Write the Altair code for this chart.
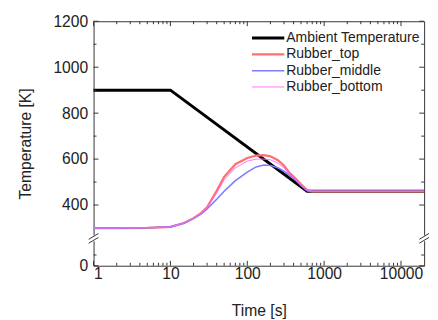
import altair as alt
import pandas as pd

# ---- data ----
series_names = ["Ambient Temperature", "Rubber_top", "Rubber_middle", "Rubber_bottom"]
series_colors = ["#000000", "#ff7070", "#7c7cff", "#ff66ff"]
series_widths = [3, 0.9, 0.9, 0.9]

time_amb = [1, 10, 600, 20000]
temp_amb = [900, 900, 460, 460]

time_rub = [1, 2, 5, 10, 15, 20, 25, 30, 40, 50, 70, 100, 130, 165, 200, 250, 300, 356, 400, 500, 600, 700, 1000, 20000]
temp_top = [300, 300, 301, 305, 322, 343, 365, 390, 462, 522, 578, 605, 615, 617, 612, 595, 572, 539, 524, 490, 465, 460, 460, 460]
temp_mid = [300, 300, 301, 305, 321, 341, 360, 383, 425, 460, 506, 543, 566, 574, 572, 562, 547, 529, 517, 485, 463, 460, 460, 460]
temp_bot = [300, 300, 301, 305, 322, 342, 363, 388, 452, 510, 562, 591, 600, 600, 597, 582, 562, 533, 520, 487, 464, 460, 460, 460]

x_major = [1, 10, 100, 1000, 10000]
x_minor = [m * d for d in [1, 10, 100, 1000] for m in range(2, 10)]
y_labels = [0, 400, 600, 800, 1000, 1200]
y_minor = [100, 500, 700, 900, 1100]

W, H = 338, 250
FONT = "Liberation Sans"
TXT = "#222222"

rows = []
for t, v in zip(time_amb, temp_amb):
    rows.append({"time": t, "temp": v, "series": series_names[0]})
for name, vals in zip(series_names[1:], [temp_top, temp_mid, temp_bot]):
    for t, v in zip(time_rub, vals):
        rows.append({"time": t, "temp": v, "series": name})
df = pd.DataFrame(rows)

xscale = alt.Scale(type="log", domain=[1, 20000], nice=False)
yscale = alt.Scale(domain=[0, 255, 1200], range=[H, 222, 0], nice=False, zero=False)

color_enc = alt.Color("series:N", scale=alt.Scale(domain=series_names, range=series_colors), legend=None)
width_enc = alt.StrokeWidth("series:N", scale=alt.Scale(domain=series_names, range=series_widths), legend=None)

xaxis = alt.Axis(values=x_major, format="d", ticks=False, domain=False, grid=False,
                 labelFontSize=16, labelFont=FONT, labelColor=TXT, labelPadding=0,
                 title="Time [s]", titleFontSize=16, titleFont=FONT, titleColor=TXT,
                 titleFontWeight="normal", titlePadding=22)
yaxis = alt.Axis(values=y_labels, format="d", ticks=False, domain=False, grid=False,
                 labelFontSize=16, labelFont=FONT, labelColor=TXT, labelPadding=6,
                 title="Temperature [K]", titleFontSize=16, titleFont=FONT, titleColor=TXT,
                 titleFontWeight="normal", titlePadding=20)

base = alt.Chart(df)
amb = base.transform_filter(alt.datum.series == series_names[0]).mark_line(strokeCap="butt").encode(
    x=alt.X("time:Q", scale=xscale, axis=xaxis),
    y=alt.Y("temp:Q", scale=yscale, axis=yaxis),
    color=color_enc, strokeWidth=width_enc, detail="series:N",
)
rub = base.transform_filter(alt.datum.series != series_names[0]).mark_line().encode(
    x=alt.X("time:Q", scale=xscale),
    y=alt.Y("temp:Q", scale=yscale, axis=None),
    color=color_enc, strokeWidth=width_enc, detail="series:N",
)

# manual legend
leg_df = pd.DataFrame({"series": series_names})
leg_y = alt.Y("series:N", scale=alt.Scale(domain=series_names, type="point", range=[17.2, 67.2], padding=0), axis=None)
leg_line = alt.Chart(leg_df).mark_rule().encode(
    y=leg_y, x=alt.value(162), x2=alt.value(195), color=color_enc, strokeWidth=width_enc)
leg_text = alt.Chart(leg_df).mark_text(align="left", baseline="middle", font=FONT, fontSize=14.3, color=TXT).encode(
    y=leg_y, x=alt.value(197), text="series:N")

tick_col = "#333333"
xmaj_df = pd.DataFrame({"v": x_major})
xmin_df = pd.DataFrame({"v": x_minor})
ymaj_df = pd.DataFrame({"v": y_labels})
ymin_df = pd.DataFrame({"v": y_minor})

def xticks(d, ln):
    b = alt.Chart(d).mark_rule(color=tick_col, strokeWidth=1)
    return (b.encode(x=alt.X("v:Q", scale=xscale), y=alt.value(H), y2=alt.value(H - ln)) +
            b.encode(x=alt.X("v:Q", scale=xscale), y=alt.value(0), y2=alt.value(ln)))

def yticks(d, ln):
    b = alt.Chart(d).mark_rule(color=tick_col, strokeWidth=1)
    yy = alt.Y("v:Q", scale=yscale, axis=None)
    return (b.encode(y=yy, x=alt.value(0), x2=alt.value(ln)) +
            b.encode(y=yy, x=alt.value(W - ln), x2=alt.value(W)))

one = alt.Data(values=[{}])
def brk(x0):
    cover = alt.Chart(one).mark_rule(color="white", strokeWidth=3).encode(
        x=alt.value(x0), y=alt.value(219), y2=alt.value(225))
    l1 = alt.Chart(one).mark_rule(color=tick_col, strokeWidth=1).encode(
        x=alt.value(x0 - 5), x2=alt.value(x0 + 5), y=alt.value(223), y2=alt.value(217))
    l2 = alt.Chart(one).mark_rule(color=tick_col, strokeWidth=1).encode(
        x=alt.value(x0 - 5), x2=alt.value(x0 + 5), y=alt.value(227), y2=alt.value(221))
    return cover + l1 + l2

chart = alt.layer(
    amb, rub,
    xticks(xmaj_df, 5), xticks(xmin_df, 3),
    yticks(ymaj_df, 5), yticks(ymin_df, 3),
    brk(0), brk(W),
    leg_line, leg_text,
).resolve_scale(y="independent").properties(
    width=W, height=H,
    autosize=alt.AutoSizeParams(type="none"),
    padding={"left": 87.5, "top": 10, "right": 6, "bottom": 55},
).configure_view(stroke="#333333", strokeWidth=1)

chart.save("out.html", embed_options={"renderer": "svg", "actions": False})
